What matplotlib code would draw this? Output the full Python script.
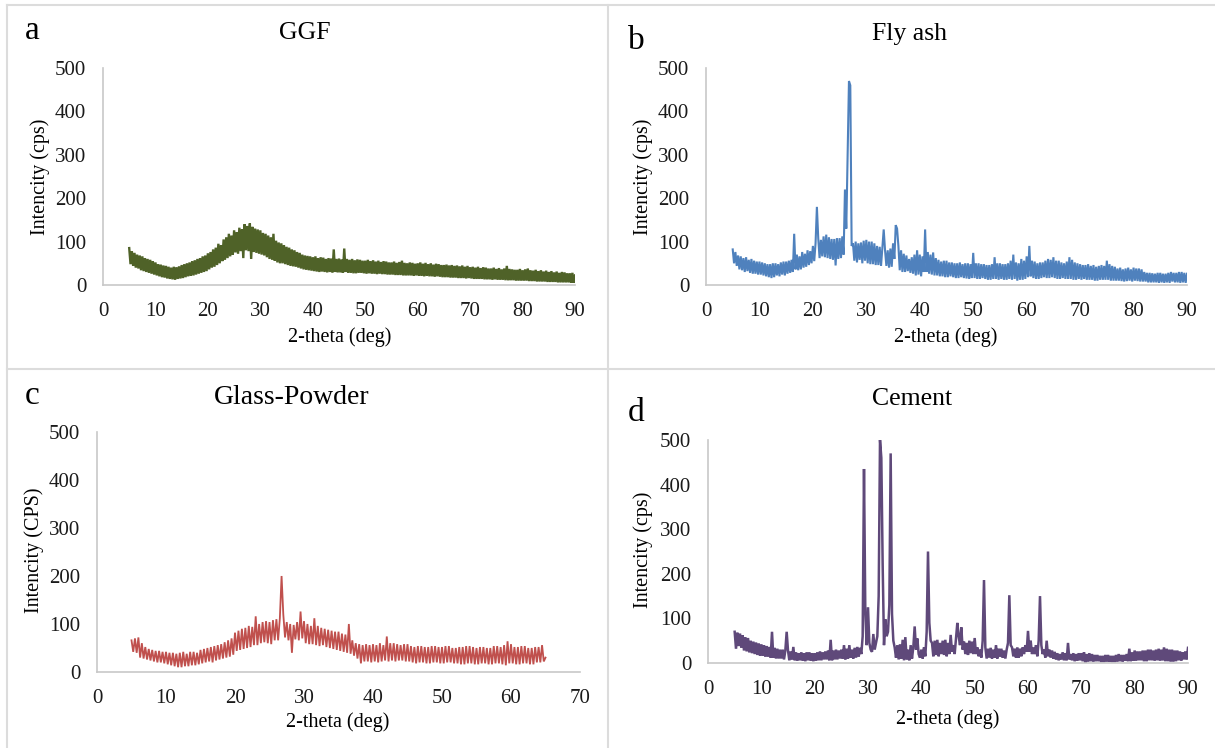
import numpy as np
import matplotlib
matplotlib.use("Agg")
import matplotlib.pyplot as plt

plt.rcParams['font.family'] = ['Liberation Serif', 'DejaVu Serif']

X0 = 5.0
STEP = 0.25

# GGF, 5..90 deg (one row = 5 deg)
ggf = [85, 48, 78, 44, 74, 40, 70, 38, 68, 34, 66, 32, 62, 30, 60, 28, 58, 26, 55, 24,
       52, 22, 48, 20, 47, 18, 45, 17, 44, 15, 42, 14, 40, 13, 42, 12, 41, 14, 43, 15,
       46, 16, 48, 18, 50, 20, 52, 21, 55, 22, 57, 24, 60, 26, 62, 28, 66, 30, 68, 32,
       73, 36, 76, 40, 82, 42, 86, 46, 95, 50, 92, 55, 105, 58, 110, 62, 118, 66, 114, 70,
       126, 75, 122, 72, 132, 78, 128, 62, 140, 80, 136, 78, 142, 60, 134, 76, 130, 74, 128, 72,
       126, 70, 120, 68, 118, 64, 114, 60, 110, 58, 118, 56, 102, 52, 98, 50, 96, 50, 92, 48,
       88, 46, 86, 44, 82, 43, 80, 42, 76, 40, 74, 38, 70, 36, 68, 35, 67, 34, 66, 33,
       64, 32, 66, 31, 62, 30, 64, 31, 63, 30, 60, 29, 62, 30, 61, 29, 82, 30, 60, 29,
       61, 29, 59, 28, 84, 30, 60, 28, 58, 28, 60, 27, 57, 27, 59, 28, 58, 28, 56, 27,
       56, 26, 58, 27, 55, 26, 57, 26, 54, 25, 56, 26, 53, 25, 55, 25, 54, 24, 52, 24,
       52, 24, 54, 23, 51, 23, 53, 23, 56, 22, 51, 22, 50, 22, 52, 22, 51, 21, 49, 22,
       50, 21, 52, 21, 49, 20, 51, 21, 48, 20, 50, 20, 47, 19, 49, 20, 48, 19, 46, 18,
       46, 18, 47, 18, 45, 17, 46, 17, 44, 17, 45, 16, 43, 16, 45, 16, 42, 15, 44, 16,
       41, 15, 42, 14, 40, 14, 42, 14, 39, 14, 41, 13, 40, 13, 38, 13, 38, 12, 40, 13,
       37, 12, 39, 12, 36, 12, 38, 11, 44, 11, 37, 11, 36, 11, 35, 10, 35, 10, 37, 10,
       34, 10, 36, 10, 38, 9, 34, 9, 33, 9, 35, 8, 32, 8, 34, 8, 31, 8, 33, 7,
       30, 7, 32, 7, 29, 7, 31, 6, 28, 6, 30, 6, 29, 6, 27, 6, 27, 5, 28, 5,
       22]

# Fly ash, 5..90 deg
fly = [82, 50, 76, 44, 68, 36, 66, 34, 62, 30, 64, 32, 58, 28, 60, 26, 56, 26, 54, 24,
       54, 24, 52, 22, 50, 20, 48, 18, 48, 16, 50, 18, 50, 22, 48, 20, 52, 24, 54, 22,
       54, 26, 56, 28, 58, 30, 118, 36, 70, 34, 66, 36, 76, 40, 72, 42, 80, 46, 78, 50,
       90, 55, 96, 180, 108, 62, 104, 66, 112, 64, 116, 62, 110, 60, 106, 58, 106, 45, 108, 60,
       108, 62, 112, 70, 220, 130, 300, 470, 460, 90, 96, 56, 100, 52, 96, 58, 98, 50, 102, 56,
       104, 50, 100, 48, 100, 48, 96, 46, 90, 46, 88, 44, 86, 128, 80, 44, 80, 40, 84, 42,
       96, 60, 138, 130, 90, 34, 80, 30, 72, 30, 68, 32, 60, 28, 64, 26, 70, 22, 80, 24,
       70, 20, 66, 30, 128, 30, 76, 26, 70, 24, 75, 22, 62, 22, 58, 20, 54, 20, 56, 18,
       56, 18, 52, 20, 52, 18, 50, 16, 50, 16, 52, 18, 48, 16, 50, 15, 50, 14, 48, 16,
       74, 16, 50, 14, 50, 14, 48, 16, 48, 14, 46, 12, 46, 12, 48, 14, 64, 14, 50, 12,
       50, 14, 48, 12, 48, 12, 50, 14, 56, 12, 70, 14, 52, 10, 50, 12, 60, 12, 56, 14,
       66, 18, 90, 20, 56, 16, 54, 14, 50, 14, 52, 16, 52, 18, 56, 16, 60, 16, 58, 18,
       64, 16, 56, 14, 56, 14, 52, 16, 50, 14, 54, 14, 64, 14, 58, 12, 52, 12, 50, 14,
       48, 12, 46, 14, 46, 12, 48, 12, 44, 12, 46, 10, 42, 10, 44, 12, 46, 12, 44, 12,
       56, 12, 48, 10, 44, 10, 42, 10, 38, 10, 40, 9, 36, 8, 38, 9, 40, 10, 36, 8,
       40, 10, 38, 9, 38, 8, 36, 8, 30, 8, 28, 6, 28, 6, 27, 6, 26, 6, 28, 5,
       28, 6, 26, 5, 26, 6, 28, 5, 30, 8, 28, 6, 28, 6, 30, 5, 30, 6, 28, 5,
       26]

# Glass powder, 5..65 deg
glass = [66, 42, 70, 40, 72, 30, 60, 28, 52, 26, 48, 24, 46, 22, 44, 20, 44, 20, 42, 18,
         42, 16, 40, 14, 40, 12, 38, 10, 40, 10, 42, 12, 38, 12, 42, 14, 42, 14, 40, 16,
         46, 18, 48, 20, 50, 22, 52, 20, 54, 24, 56, 26, 58, 28, 62, 30, 66, 32, 70, 36,
         82, 44, 86, 46, 90, 48, 92, 50, 96, 52, 94, 56, 116, 56, 100, 60, 104, 62, 106, 60,
         104, 58, 108, 66, 110, 66, 112, 200, 120, 72, 104, 66, 100, 40, 98, 68, 104, 66, 126, 70,
         106, 60, 100, 58, 96, 58, 112, 56, 96, 54, 92, 56, 90, 52, 88, 50, 86, 48, 84, 46,
         84, 44, 80, 42, 78, 40, 100, 38, 66, 34, 60, 28, 58, 18, 56, 22, 58, 22, 56, 20,
         58, 22, 56, 20, 60, 22, 56, 24, 74, 22, 60, 24, 60, 22, 58, 24, 56, 24, 58, 22,
         58, 22, 54, 20, 52, 18, 54, 20, 54, 20, 52, 18, 52, 18, 54, 20, 54, 20, 52, 18,
         52, 18, 54, 20, 54, 20, 50, 18, 50, 18, 52, 16, 52, 16, 54, 18, 54, 18, 52, 16,
         50, 16, 52, 18, 52, 18, 50, 16, 50, 16, 54, 18, 54, 18, 52, 16, 56, 14, 64, 18,
         58, 18, 52, 16, 52, 16, 54, 18, 54, 18, 50, 16, 50, 16, 52, 20, 52, 20, 56, 22,
         30]

# Cement, 5..90 deg
cement = [70, 32, 68, 38, 66, 34, 62, 28, 58, 26, 56, 24, 50, 22, 48, 20, 46, 18, 44, 16,
          42, 16, 40, 14, 38, 14, 36, 12, 70, 12, 34, 10, 32, 10, 30, 10, 30, 8, 28, 70,
          28, 6, 26, 8, 36, 6, 24, 5, 22, 6, 24, 5, 22, 4, 24, 6, 24, 5, 22, 4,
          22, 5, 24, 6, 26, 6, 24, 8, 26, 8, 28, 6, 52, 6, 28, 8, 30, 8, 28, 10,
          30, 10, 40, 8, 32, 10, 40, 12, 30, 10, 34, 12, 36, 14, 34, 20, 60, 435, 110, 40,
          125, 45, 30, 25, 65, 30, 45, 60, 150, 500, 460, 220, 40, 98, 60, 70, 130, 470, 110, 50,
          35, 12, 40, 8, 42, 10, 52, 6, 58, 8, 30, 6, 40, 10, 36, 82, 30, 55, 20, 12,
          30, 10, 35, 15, 70, 250, 90, 50, 45, 15, 50, 18, 52, 15, 45, 20, 50, 18, 52, 15,
          45, 20, 63, 25, 40, 20, 55, 90, 60, 40, 80, 30, 48, 20, 45, 18, 50, 22, 48, 20,
          56, 20, 35, 15, 30, 12, 50, 186, 35, 10, 32, 12, 34, 10, 30, 12, 40, 10, 32, 14,
          32, 12, 28, 10, 30, 45, 152, 40, 35, 15, 32, 12, 35, 12, 32, 15, 35, 20, 40, 25,
          72, 25, 50, 20, 35, 20, 40, 15, 50, 150, 40, 20, 30, 12, 50, 15, 30, 12, 28, 10,
          25, 8, 22, 6, 20, 8, 24, 6, 22, 6, 45, 8, 20, 6, 22, 4, 20, 5, 22, 6,
          22, 4, 24, 0, 20, 3, 22, 4, 20, 3, 18, 4, 18, 4, 16, 2, 16, 2, 18, 3,
          18, 3, 16, 2, 16, 2, 18, 3, 20, 4, 18, 3, 18, 5, 20, 4, 32, 4, 24, 5,
          28, 5, 26, 6, 26, 6, 28, 4, 28, 4, 30, 6, 30, 6, 28, 5, 30, 6, 32, 5,
          30, 6, 35, 4, 32, 4, 30, 3, 30, 3, 28, 4, 28, 6, 26, 5, 24, 8, 26, 8,
          34]

titles = ['GGF', 'Fly ash', 'Glass-Powder', 'Cement']
letters = ['a', 'b', 'c', 'd']
ylabels = ['Intencity (cps)', 'Intencity (cps)', 'Intencity (CPS)', 'Intencity (cps)']
x_max = [90, 90, 70, 90]
traces = [ggf, fly, glass, cement]

W, H = 1215, 748
fig = plt.figure(figsize=(W / 100, H / 100), dpi=100)

# light gray frame around the four cells
frame = dict(color='#dcdcdc', lw=1.5, transform=fig.transFigure)
fig.add_artist(plt.Line2D([7 / W, 1], [1 - 5 / H, 1 - 5 / H], **frame))
fig.add_artist(plt.Line2D([7 / W, 7 / W], [0, 1 - 5 / H], **frame))
fig.add_artist(plt.Line2D([608 / W, 608 / W], [0, 1 - 5 / H], **frame))
fig.add_artist(plt.Line2D([7 / W, 1], [1 - 369 / H, 1 - 369 / H], **frame))

# pixel boxes (left, right, top, bottom) and text anchors for each panel
boxes = [(103, 575, 68, 285), (706, 1187, 68, 285), (97, 580, 432, 672), (708, 1188, 440, 663)]
colors = ['#4f6228', '#4f81bd', '#c0504d', '#5f497a']
widths = [1.7, 1.5, 1.3, 1.8]
title_size = [18.5, 18.5, 20, 18.5]
title_xy = [(305, 33), (910, 34), (292, 397), (912, 399)]
letter_xy = [(32, 31), (636, 41), (32, 396), (636, 413)]
ylab_xy = [(40, 177), (643, 177), (34, 550), (643, 550)]
xlab_xy = [(340, 337), (946, 337), (338, 722), (948, 719)]

for i in range(4):
    l, r, t, b = boxes[i]
    ax = fig.add_axes([l / W, 1 - b / H, (r - l) / W, (b - t) / H])
    y = np.array(traces[i], dtype=float)
    x = X0 + STEP * np.arange(len(y))
    ax.plot(x, y, color=colors[i], lw=widths[i], solid_joinstyle='miter')
    ax.set_xlim(0, x_max[i])
    ax.set_ylim(0, 500)
    ax.set_xticks(np.arange(0, x_max[i] + 1, 10))
    ax.set_yticks(np.arange(0, 501, 100))
    ax.tick_params(length=0, labelsize=15, colors='#1a1a1a')
    ax.tick_params(axis='x', pad=12)
    ax.tick_params(axis='y', pad=12)
    for s in ['top', 'right']:
        ax.spines[s].set_visible(False)
    for s in ['left', 'bottom']:
        ax.spines[s].set_color('#c8c8c8')
        ax.spines[s].set_linewidth(1.2)

    fig.text(title_xy[i][0] / W, 1 - title_xy[i][1] / H, titles[i],
             ha='center', va='center', fontsize=title_size[i])
    fig.text(letter_xy[i][0] / W, 1 - letter_xy[i][1] / H, letters[i],
             ha='center', va='center', fontsize=24)
    fig.text(ylab_xy[i][0] / W, 1 - ylab_xy[i][1] / H, ylabels[i],
             ha='center', va='center', rotation=90, fontsize=14.5)
    fig.text(xlab_xy[i][0] / W, 1 - xlab_xy[i][1] / H, '2-theta (deg)',
             ha='center', va='center', fontsize=14.5)

fig.savefig('out.png', dpi=100)
